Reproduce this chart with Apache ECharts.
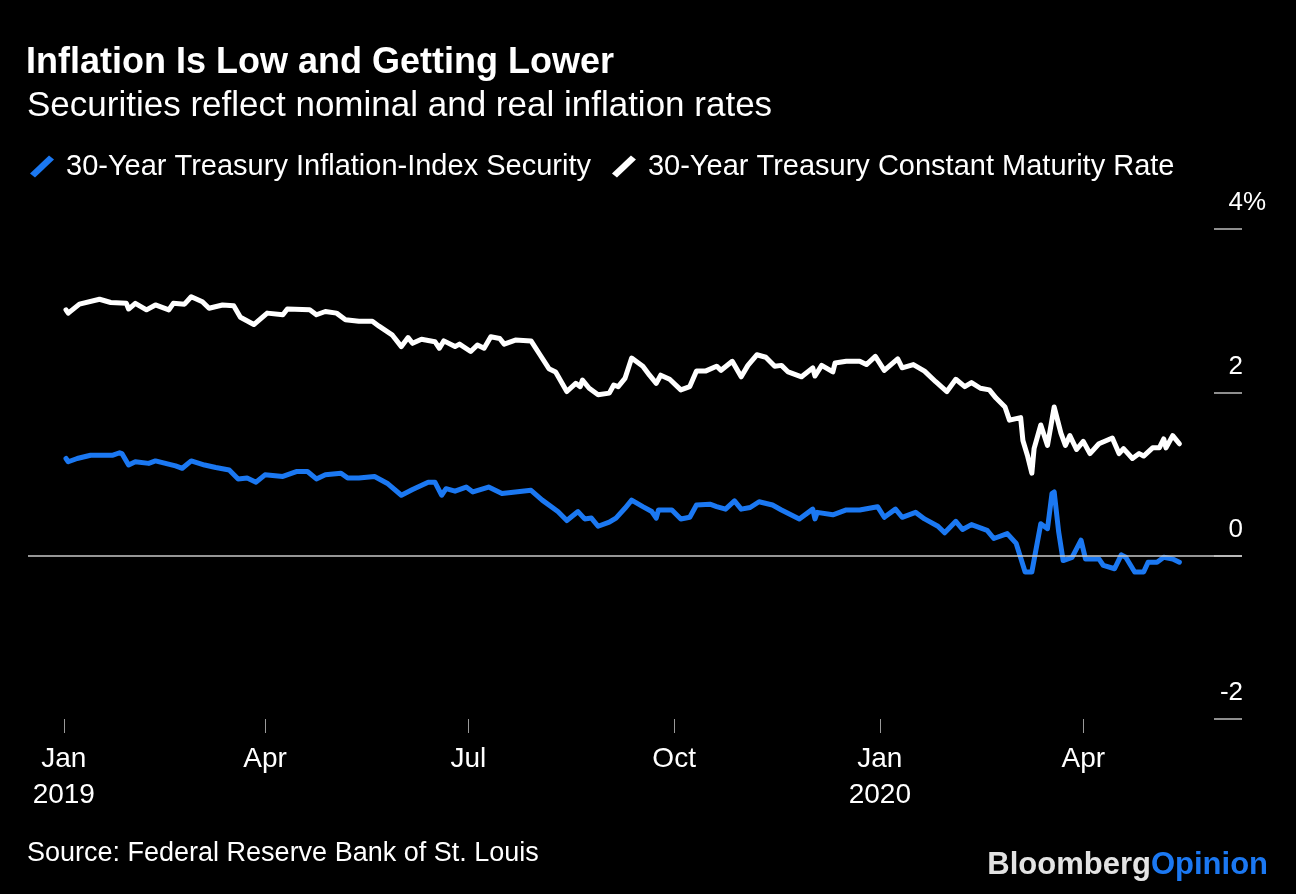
<!DOCTYPE html>
<html>
<head>
<meta charset="utf-8">
<script src="https://cdn.jsdelivr.net/npm/echarts@6/dist/echarts.min.js"></script>
<style>
html,body{margin:0;padding:0;background:#000;}
#chart{width:1296px;height:894px;}
</style>
</head>
<body>
<div id="chart"></div>
<script>
// ---- Data ----
const cmtDates = ['2019-01-02','2019-01-03','2019-01-08','2019-01-17','2019-01-22','2019-01-29','2019-01-30','2019-02-02','2019-02-07','2019-02-11','2019-02-17','2019-02-19','2019-02-24','2019-02-27','2019-03-04','2019-03-07','2019-03-13','2019-03-18','2019-03-21','2019-03-27','2019-04-02','2019-04-09','2019-04-11','2019-04-21','2019-04-24','2019-04-28','2019-05-03','2019-05-07','2019-05-13','2019-05-19','2019-05-22','2019-05-28','2019-06-01','2019-06-04','2019-06-06','2019-06-10','2019-06-16','2019-06-18','2019-06-20','2019-06-25','2019-06-27','2019-07-02','2019-07-05','2019-07-08','2019-07-11','2019-07-15','2019-07-17','2019-07-22','2019-07-29','2019-08-02','2019-08-06','2019-08-09','2019-08-14','2019-08-18','2019-08-20','2019-08-21','2019-08-24','2019-08-28','2019-09-02','2019-09-04','2019-09-06','2019-09-09','2019-09-12','2019-09-17','2019-09-20','2019-09-23','2019-09-25','2019-09-29','2019-10-04','2019-10-08','2019-10-11','2019-10-15','2019-10-20','2019-10-22','2019-10-27','2019-10-31','2019-11-03','2019-11-07','2019-11-11','2019-11-15','2019-11-18','2019-11-21','2019-11-27','2019-12-02','2019-12-03','2019-12-06','2019-12-11','2019-12-12','2019-12-17','2019-12-23','2019-12-26','2019-12-30','2020-01-03','2020-01-09','2020-01-11','2020-01-16','2020-01-21','2020-01-26','2020-01-31','2020-02-04','2020-02-08','2020-02-11','2020-02-15','2020-02-19','2020-02-22','2020-02-26','2020-02-28','2020-03-04','2020-03-05','2020-03-07','2020-03-09','2020-03-10','2020-03-13','2020-03-16','2020-03-19','2020-03-22','2020-03-24','2020-03-26','2020-03-29','2020-04-01','2020-04-04','2020-04-08','2020-04-14','2020-04-17','2020-04-19','2020-04-23','2020-04-26','2020-04-28','2020-05-02','2020-05-05','2020-05-07','2020-05-08','2020-05-11','2020-05-14'];
const cmtValues = [3.01,2.97,3.08,3.14,3.10,3.09,3.02,3.09,3.01,3.07,3.01,3.09,3.08,3.17,3.11,3.03,3.07,3.06,2.92,2.83,2.97,2.95,3.02,3.01,2.95,2.99,2.97,2.89,2.87,2.87,2.81,2.70,2.56,2.67,2.60,2.65,2.62,2.54,2.63,2.56,2.59,2.50,2.58,2.54,2.68,2.66,2.59,2.64,2.63,2.46,2.29,2.25,2.01,2.11,2.07,2.15,2.05,1.97,1.99,2.09,2.07,2.17,2.42,2.32,2.21,2.11,2.21,2.16,2.03,2.07,2.26,2.26,2.32,2.27,2.38,2.19,2.33,2.46,2.43,2.32,2.33,2.25,2.19,2.30,2.20,2.33,2.25,2.36,2.38,2.38,2.34,2.44,2.27,2.41,2.30,2.34,2.26,2.13,2.01,2.16,2.07,2.12,2.05,2.03,1.93,1.82,1.66,1.69,1.41,1.23,1.01,1.31,1.60,1.35,1.82,1.50,1.35,1.47,1.30,1.40,1.25,1.37,1.44,1.25,1.31,1.19,1.25,1.22,1.32,1.32,1.43,1.32,1.47,1.37];

const tipsDates = ['2019-01-02','2019-01-03','2019-01-07','2019-01-13','2019-01-23','2019-01-26','2019-01-27','2019-01-30','2019-02-02','2019-02-08','2019-02-11','2019-02-20','2019-02-23','2019-02-27','2019-03-05','2019-03-10','2019-03-16','2019-03-20','2019-03-24','2019-03-28','2019-04-01','2019-04-09','2019-04-15','2019-04-20','2019-04-24','2019-04-28','2019-05-05','2019-05-08','2019-05-13','2019-05-20','2019-05-26','2019-06-01','2019-06-06','2019-06-13','2019-06-16','2019-06-19','2019-06-21','2019-06-25','2019-06-30','2019-07-03','2019-07-10','2019-07-16','2019-07-22','2019-07-29','2019-08-03','2019-08-10','2019-08-14','2019-08-19','2019-08-22','2019-08-25','2019-08-28','2019-09-02','2019-09-05','2019-09-09','2019-09-12','2019-09-17','2019-09-21','2019-09-23','2019-09-24','2019-09-30','2019-10-04','2019-10-08','2019-10-11','2019-10-17','2019-10-20','2019-10-24','2019-10-28','2019-10-31','2019-11-04','2019-11-08','2019-11-14','2019-11-18','2019-11-26','2019-12-02','2019-12-03','2019-12-04','2019-12-11','2019-12-17','2019-12-23','2019-12-31','2020-01-03','2020-01-08','2020-01-11','2020-01-17','2020-01-21','2020-01-27','2020-01-30','2020-02-04','2020-02-07','2020-02-11','2020-02-18','2020-02-21','2020-02-27','2020-03-02','2020-03-06','2020-03-09','2020-03-13','2020-03-16','2020-03-18','2020-03-19','2020-03-21','2020-03-23','2020-03-27','2020-03-31','2020-04-02','2020-04-08','2020-04-10','2020-04-15','2020-04-18','2020-04-20','2020-04-24','2020-04-28','2020-04-30','2020-05-04','2020-05-07','2020-05-11','2020-05-14'];
const tipsValues = [1.19,1.15,1.19,1.23,1.23,1.26,1.25,1.11,1.15,1.13,1.16,1.10,1.07,1.16,1.11,1.08,1.05,0.94,0.95,0.90,0.99,0.97,1.03,1.03,0.94,0.99,1.01,0.95,0.95,0.97,0.88,0.74,0.81,0.90,0.90,0.74,0.82,0.79,0.84,0.78,0.84,0.76,0.78,0.80,0.68,0.54,0.43,0.54,0.45,0.46,0.36,0.41,0.46,0.58,0.68,0.60,0.54,0.46,0.56,0.56,0.45,0.47,0.62,0.63,0.60,0.57,0.67,0.57,0.59,0.66,0.62,0.56,0.45,0.57,0.45,0.53,0.50,0.56,0.56,0.60,0.47,0.57,0.47,0.53,0.45,0.36,0.28,0.42,0.32,0.38,0.31,0.21,0.27,0.15,-0.20,-0.20,0.39,0.33,0.76,0.78,0.29,-0.06,-0.02,0.19,-0.04,-0.04,-0.12,-0.16,0.01,-0.02,-0.20,-0.20,-0.08,-0.08,-0.02,-0.04,-0.08];

const xTickDates = ['2019-01-01','2019-04-01','2019-07-01','2019-10-01','2020-01-01','2020-04-01'];
const yTicks = [-2, 0, 2, 4];
const seriesNames = ['30-Year Treasury Inflation-Index Security', '30-Year Treasury Constant Maturity Rate'];
const monthNames = ['Jan','Feb','Mar','Apr','May','Jun','Jul','Aug','Sep','Oct','Nov','Dec'];

// ---- Build ----
function ts(s){ const p = s.split('-'); return new Date(+p[0], +p[1]-1, +p[2]).getTime(); }
const zip = (d, v) => d.map((x, i) => [ts(x), v[i]]);
const tickVals = xTickDates.map(ts);
const FONT = '"Liberation Sans", Arial, Helvetica, sans-serif';
const BLUE = '#1b78f2';
const slash = 'path://M0,18 L19,0 L24,4 L5,22 Z';

const chart = echarts.init(document.getElementById('chart'), null, {renderer: 'canvas'});
chart.setOption({
  backgroundColor: '#000',
  animation: false,
  textStyle: {fontFamily: FONT},
  title: [
    {text: 'Inflation Is Low and Getting Lower', left: 26, top: 45, padding: 0,
     textStyle: {color: '#fff', fontSize: 36, fontWeight: 'bold', lineHeight: 36, fontFamily: FONT}},
    {text: 'Securities reflect nominal and real inflation rates', left: 27, top: 89, padding: 0,
     textStyle: {color: '#fff', fontSize: 35, fontWeight: 'normal', lineHeight: 35, fontFamily: FONT}},
    {text: 'Source: Federal Reserve Bank of St. Louis', left: 27, top: 840, padding: 0,
     textStyle: {color: '#fff', fontSize: 27, fontWeight: 'normal', lineHeight: 27, fontFamily: FONT}}
  ],
  legend: {
    left: 30, top: 152, padding: 0,
    itemWidth: 24, itemHeight: 22, itemGap: 21,
    icon: slash,
    data: [
      {name: seriesNames[0], icon: slash, itemStyle: {color: BLUE, borderWidth: 0}},
      {name: seriesNames[1], icon: slash, itemStyle: {color: '#fff', borderWidth: 0}}
    ],
    textStyle: {color: '#fff', fontSize: 29, fontFamily: FONT, padding: [0, 0, 0, 7]},
    selectedMode: false
  },
  grid: {left: 28, right: 54, top: 229, bottom: 175, containLabel: false},
  xAxis: {
    type: 'value',
    min: ts('2018-12-16'), max: ts('2020-06-11'),
    axisLine: {show: false, onZero: false},
    splitLine: {show: false},
    axisTick: {show: true, customValues: tickVals, length: 14, lineStyle: {color: '#9a9a9a', width: 1}},
    axisLabel: {
      customValues: tickVals,
      color: '#fff', fontSize: 28, lineHeight: 36, margin: 22, fontFamily: FONT,
      formatter: function (v) {
        const d = new Date(v);
        const m = monthNames[d.getMonth()];
        return d.getMonth() === 0 ? m + '\n' + d.getFullYear() : m;
      }
    }
  },
  yAxis: {
    type: 'value', position: 'right',
    min: -2, max: 4, interval: 2,
    axisLine: {show: false},
    splitLine: {show: false},
    axisTick: {show: true, inside: true, length: 28, lineStyle: {color: '#bdbdbd', width: 1.5}},
    axisLabel: {
      inside: true, margin: -24, verticalAlign: 'middle', padding: [0, 0, 52, 0],
      color: '#fff', fontSize: 26, fontFamily: FONT,
      formatter: function (v) { return v === 4 ? '{n|4%}' : '{n|' + v + '}{s|}'; },
      rich: {
        n: {fontSize: 26, color: '#fff', fontFamily: FONT},
        s: {fontSize: 26, width: 23}
      }
    }
  },
  series: [
    {
      name: seriesNames[1], type: 'line', data: zip(cmtDates, cmtValues),
      showSymbol: false, symbol: 'none',
      lineStyle: {color: '#fff', width: 5, join: 'round', cap: 'round'},
      itemStyle: {color: '#fff'},
      markLine: {
        silent: true, symbol: 'none', label: {show: false},
        lineStyle: {color: '#c8c8c8', width: 1.5, type: 'solid'},
        data: [{yAxis: 0}]
      },
      z: 2
    },
    {
      name: seriesNames[0], type: 'line', data: zip(tipsDates, tipsValues),
      showSymbol: false, symbol: 'none',
      lineStyle: {color: BLUE, width: 5, join: 'round', cap: 'round'},
      itemStyle: {color: BLUE},
      z: 3
    }
  ],
  graphic: [
    {
      type: 'text', right: 28, top: 850,
      style: {
        text: '{a|Bloomberg}{b|Opinion}',
        rich: {
          a: {fontSize: 31, fontWeight: 'bold', fill: '#e3e3e3', fontFamily: FONT},
          b: {fontSize: 31, fontWeight: 'bold', fill: BLUE, fontFamily: FONT}
        }
      }
    }
  ]
});
</script>
</body>
</html>
